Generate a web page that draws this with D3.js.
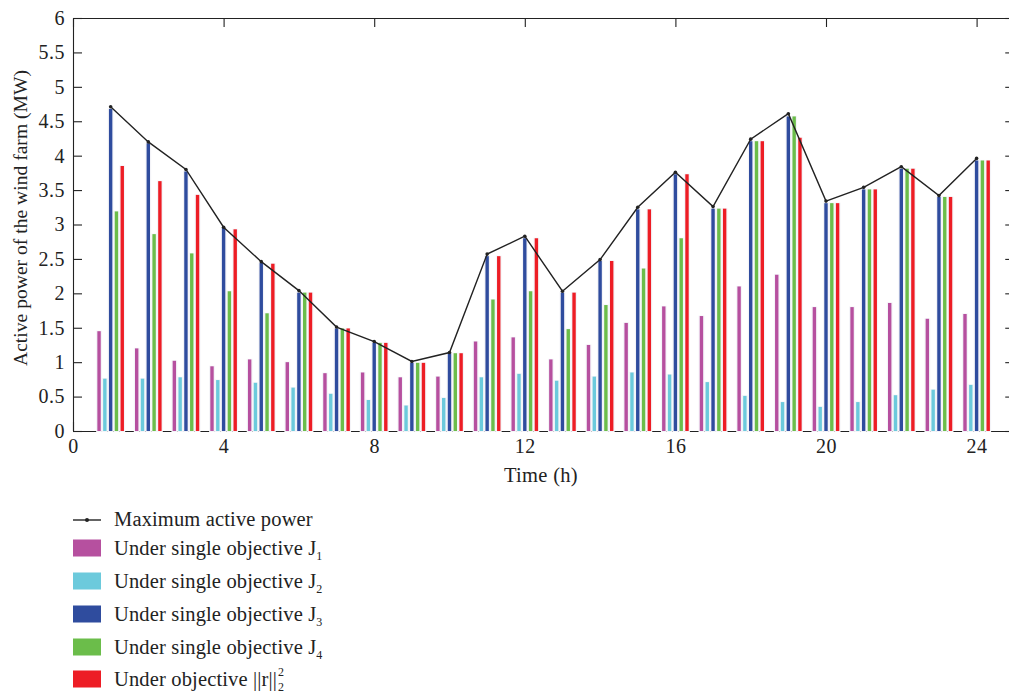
<!DOCTYPE html>
<html>
<head>
<meta charset="utf-8">
<script src="https://cdn.jsdelivr.net/npm/d3@7"></script>
<style>
  body { margin: 0; background: #fff; }
  text { font-family: "Liberation Serif", "DejaVu Serif", serif; fill: #222; }
</style>
</head>
<body>
<div class="canvas"></div>
<script>
// data
const hours = d3.range(1, 25);
const maxPower = [4.71, 4.2, 3.8, 2.96, 2.46, 2.04, 1.51, 1.3, 1.01, 1.14, 2.57, 2.83, 2.03, 2.49, 3.25, 3.76, 3.26, 4.24, 4.61, 3.34, 3.54, 3.84, 3.42, 3.96];
const j1 = [1.45, 1.2, 1.02, 0.94, 1.04, 1.0, 0.84, 0.85, 0.78, 0.79, 1.3, 1.36, 1.04, 1.25, 1.57, 1.81, 1.67, 2.1, 2.27, 1.8, 1.8, 1.86, 1.63, 1.7];
const j2 = [0.76, 0.76, 0.78, 0.74, 0.7, 0.63, 0.54, 0.45, 0.37, 0.48, 0.78, 0.83, 0.73, 0.79, 0.85, 0.82, 0.71, 0.51, 0.42, 0.35, 0.42, 0.52, 0.6, 0.67];
const j3 = [4.68, 4.18, 3.77, 2.95, 2.44, 2.01, 1.49, 1.28, 0.99, 1.13, 2.54, 2.8, 2.01, 2.47, 3.22, 3.73, 3.23, 4.21, 4.57, 3.31, 3.51, 3.81, 3.4, 3.93];
const j4 = [3.19, 2.86, 2.58, 2.03, 1.71, 2.01, 1.49, 1.28, 0.99, 1.13, 1.91, 2.03, 1.48, 1.83, 2.36, 2.8, 3.23, 4.21, 4.57, 3.31, 3.51, 3.81, 3.4, 3.93];
const rNorm = [3.85, 3.63, 3.43, 2.93, 2.43, 2.01, 1.49, 1.28, 0.99, 1.13, 2.54, 2.8, 2.01, 2.47, 3.22, 3.73, 3.23, 4.21, 4.26, 3.31, 3.51, 3.81, 3.4, 3.93];
const seriesKeys = ['j1', 'j2', 'j3', 'j4', 'r'];
const seriesValues = [j1, j2, j3, j4, rNorm];
const xTicks = [0, 4, 8, 12, 16, 20, 24];
const yTicks = d3.range(0, 6.01, 0.5);

const colors = {j1: '#b6509f', j2: '#6ccadc', j3: '#2f4c9e', j4: '#6bbd4a', r: '#ed1d25'};

const svg = d3.select('.canvas')
    .append('svg')
        .attr('width', 1009)
        .attr('height', 694);

// plot box
const boxLeft = 73, boxTop = 18, boxBottom = 431, hourPx = 37.65;

const x = d3.scaleLinear()
    .domain([0, 25])
    .range([boxLeft, boxLeft + 25 * hourPx]);

const y = d3.scaleLinear()
    .domain([0, 6])
    .range([boxBottom, boxTop]);

// offsets of the five bars inside an hour group
const inner = d3.scaleBand()
    .domain(seriesKeys)
    .range([-14.5, 14.5]);

const fmt = d => d3.format('')(d);

// axes (ticks pointing inward)
svg.append('g')
    .attr('transform', `translate(0,${boxBottom})`)
    .call(d3.axisBottom(x).tickValues(xTicks).tickSizeInner(-9).tickSizeOuter(0).tickPadding(8).tickFormat(fmt));

svg.append('g')
    .attr('transform', `translate(0,${boxTop})`)
    .call(d3.axisTop(x).tickValues(xTicks).tickSizeInner(-9).tickSizeOuter(0).tickFormat(''));

svg.append('g')
    .attr('transform', `translate(${boxLeft},0)`)
    .call(d3.axisLeft(y).tickValues(yTicks).tickSizeInner(-9).tickSizeOuter(0).tickPadding(8).tickFormat(fmt));

svg.append('g')
    .attr('transform', `translate(${x(25)},0)`)
    .call(d3.axisRight(y).tickValues(yTicks).tickSizeInner(-9).tickSizeOuter(0).tickFormat(''));

svg.selectAll('.domain, .tick line')
    .attr('stroke', '#222')
    .attr('stroke-width', 1.1);

svg.selectAll('.tick text')
    .attr('font-size', 20)
    .attr('letter-spacing', 0.5)
    .attr('font-family', '"Liberation Serif", serif')
    .attr('fill', '#222');

// bars
const barData = [];
hours.forEach((h, i) => {
    seriesKeys.forEach((k, s) => {
        barData.push({hour: h, key: k, value: seriesValues[s][i]});
    });
});

const bars = svg.append('g').selectAll('g').data(barData).enter().append('g');

// pale backing that hides the axis line inside each group
bars.append('rect')
    .attr('x', d => x(d.hour) + inner(d.key))
    .attr('y', d => y(d.value) - 0.6)
    .attr('width', inner.bandwidth())
    .attr('height', d => y(0) - y(d.value) + 1.6)
    .attr('fill', '#f4f4f8');

bars.append('rect')
    .attr('x', d => x(d.hour) + inner(d.key) + 1.2)
    .attr('y', d => y(d.value))
    .attr('width', inner.bandwidth() - 2.4)
    .attr('height', d => y(0) - y(d.value))
    .attr('fill', d => colors[d.key]);

// maximum active power line
const line = d3.line()
    .x((d, i) => x(hours[i]))
    .y(d => y(d));

svg.append('path')
    .datum(maxPower)
    .attr('d', line)
    .attr('fill', 'none')
    .attr('stroke', '#222')
    .attr('stroke-width', 1.4);

svg.append('g').selectAll('circle')
    .data(maxPower)
    .enter()
    .append('circle')
        .attr('cx', (d, i) => x(hours[i]))
        .attr('cy', d => y(d))
        .attr('r', 1.8)
        .attr('fill', '#222');

// axis titles
svg.append('text')
    .attr('x', 541)
    .attr('y', 482)
    .attr('text-anchor', 'middle')
    .attr('font-size', 20.5)
    .attr('letter-spacing', 0.3)
    .text('Time (h)');

svg.append('text')
    .attr('transform', 'translate(27,218) rotate(-90)')
    .attr('text-anchor', 'middle')
    .attr('font-size', 19.6)
    .text('Active power of the wind farm (MW)');

// legend
const legend = svg.append('g');
const legendX = 73, textX = 114;

legend.append('line')
    .attr('x1', legendX).attr('x2', legendX + 28)
    .attr('y1', 520).attr('y2', 520)
    .attr('stroke', '#222').attr('stroke-width', 1.4);
legend.append('circle')
    .attr('cx', legendX + 14).attr('cy', 520).attr('r', 2).attr('fill', '#222');
legend.append('text')
    .attr('x', textX).attr('y', 526)
    .attr('font-size', 20.5)
    .attr('letter-spacing', 0.15)
    .text('Maximum active power');

const legendRows = [
    {key: 'j1', sub: '1'},
    {key: 'j2', sub: '2'},
    {key: 'j3', sub: '3'},
    {key: 'j4', sub: '4'}
];

legendRows.forEach((row, i) => {
    const cy = 548 + i * 33;
    legend.append('rect')
        .attr('x', legendX).attr('y', cy - 8.5)
        .attr('width', 28).attr('height', 17)
        .attr('fill', colors[row.key]);
    const t = legend.append('text')
        .attr('x', textX).attr('y', cy + 7)
        .attr('font-size', 20.5)
        .attr('letter-spacing', 0.15)
        .text('Under single objective J');
    t.append('tspan')
        .attr('font-size', 12)
        .attr('dy', 5)
        .text(row.sub);
});

const rY = 548 + 4 * 33 - 1;
legend.append('rect')
    .attr('x', legendX).attr('y', rY - 8.5)
    .attr('width', 28).attr('height', 17)
    .attr('fill', colors.r);
const rText = legend.append('text')
    .attr('x', textX).attr('y', rY + 7)
    .attr('font-size', 20.5)
    .attr('letter-spacing', 0.15)
    .text('Under objective ||r||');
const rEnd = textX + rText.node().getComputedTextLength() + 1;
legend.append('text')
    .attr('x', rEnd).attr('y', rY - 3)
    .attr('font-size', 12)
    .text('2');
legend.append('text')
    .attr('x', rEnd).attr('y', rY + 12)
    .attr('font-size', 12)
    .text('2');
</script>
</body>
</html>
